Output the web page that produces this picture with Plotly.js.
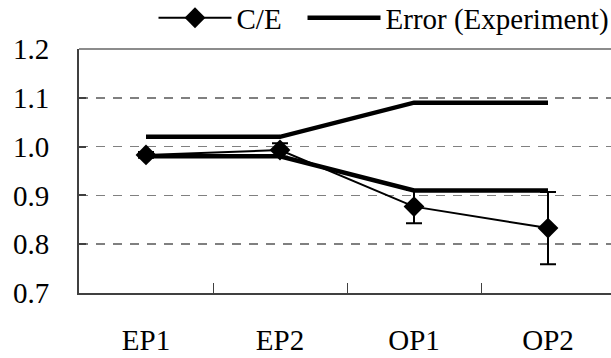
<!DOCTYPE html>
<html><head><meta charset="utf-8">
<script src="https://cdn.plot.ly/plotly-3.0.1.min.js"></script>
<style>html,body{margin:0;padding:0;overflow:hidden;background:#fff}#chart{width:620px;height:358px}</style>
</head><body><div id="chart"></div>
<script>
var categories = ["EP1", "EP2", "OP1", "OP2"];
var ceValues = [0.983, 0.993, 0.877, 0.833];
var ceErrors = [0.006, 0.014, 0.034, 0.074];
var expUpper = [1.02, 1.02, 1.09, 1.09];
var expLower = [0.98, 0.98, 0.91, 0.91];
var yTicks = [0.7, 0.8, 0.9, 1.0, 1.1, 1.2];

var font = {family: "Liberation Serif, Times New Roman, serif", size: 29, color: "#000"};

var errX = categories.concat([null]).concat(categories);
var errY = expUpper.concat([null]).concat(expLower);

var traces = [
  {x: categories, y: ceValues, name: "C/E", type: "scatter", mode: "lines+markers",
   legend: "legend",
   line: {color: "#000", width: 2},
   marker: {symbol: "diamond", size: 16, color: "#000"},
   error_y: {type: "data", array: ceErrors, visible: true, color: "#000", thickness: 2, width: 8}},
  {x: errX, y: errY, name: "Error (Experiment)", type: "scatter", mode: "lines",
   legend: "legend2",
   connectgaps: false, line: {color: "#000", width: 4.5}}
];

function legendAt(x) {
  return {orientation: "h", xref: "paper", x: x, yref: "container", y: 0.95,
          xanchor: "left", yanchor: "middle", font: font, itemwidth: 73,
          bgcolor: "rgba(0,0,0,0)"};
}

var layout = {
  width: 620, height: 358,
  margin: {l: 79, r: 5, t: 49, b: 65},
  paper_bgcolor: "#fff", plot_bgcolor: "#fff",
  font: font,
  showlegend: true,
  legend: legendAt(0.139),
  legend2: legendAt(0.417),
  xaxis: {type: "category", range: [-0.5, 3.5], tickson: "boundaries", ticks: "inside",
          ticklen: 10, tickcolor: "#404040", tickwidth: 1, showline: true, linecolor: "#404040",
          linewidth: 2, showgrid: false, zeroline: false, ticklabelstandoff: 20, tickfont: font},
  yaxis: {range: [0.7, 1.2], tickvals: yTicks, tickformat: ".1f", ticks: "inside", ticklen: 7,
          tickcolor: "#404040", tickwidth: 2, showline: true, linecolor: "#404040", linewidth: 2,
          showgrid: true, gridcolor: "#808080", gridwidth: 1.5, griddash: "9px,8px",
          zeroline: false, ticklabelstandoff: 22, tickfont: font},
  shapes: [{type: "line", xref: "paper", yref: "paper", x0: 0, x1: 1, y0: 1, y1: 1,
            line: {color: "#8c8c8c", width: 2}}]
};
Plotly.newPlot("chart", traces, layout, {displayModeBar: false, staticPlot: true});
</script></body></html>
